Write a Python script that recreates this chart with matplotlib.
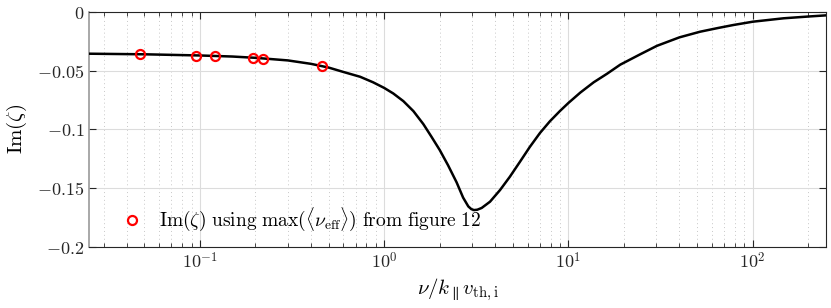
import numpy as np
import matplotlib
matplotlib.use("Agg")
import matplotlib.pyplot as plt
from matplotlib.ticker import FixedLocator, FixedFormatter, LogLocator, NullFormatter

plt.rcParams['mathtext.fontset'] = 'cm'
plt.rcParams['font.family'] = 'serif'
plt.rcParams['font.serif'] = ['DejaVu Serif']

# curve
nu = [0.025, 0.05, 0.1, 0.15, 0.2, 0.3, 0.4, 0.5, 0.6, 0.74, 0.87, 1.0, 1.12,
      1.27, 1.44, 1.63, 1.8, 2.0, 2.22, 2.47, 2.68, 2.86, 2.97, 3.07, 3.2,
      3.38, 3.75, 4.25, 4.81, 5.45, 6.17, 7.0, 7.93, 9.0, 10.0, 11.6, 13.7,
      16.2, 19.1, 24.5, 30.2, 40.0, 51.8, 65.0, 78.5, 100.0, 147.0, 200.0, 250.0]
im_zeta = [-0.0357, -0.0362, -0.0372, -0.0381, -0.0392, -0.0414, -0.0443,
           -0.0475, -0.0512, -0.0553, -0.0600, -0.0648, -0.0695, -0.0760,
           -0.0845, -0.0955, -0.1060, -0.1175, -0.1305, -0.1450, -0.1580,
           -0.1655, -0.1678, -0.1686, -0.1683, -0.1668, -0.1615, -0.1516,
           -0.1402, -0.1276, -0.1149, -0.1031, -0.0931, -0.0843, -0.0775,
           -0.0687, -0.0600, -0.0527, -0.0450, -0.0362, -0.0290, -0.0218,
           -0.0170, -0.0138, -0.0113, -0.0085, -0.0056, -0.0041, -0.0031]

# markers (using max <nu_eff> from figure 12)
nu_pts = [0.0474, 0.095, 0.12, 0.193, 0.22, 0.457]
im_pts = [-0.0360, -0.0374, -0.0377, -0.0391, -0.0400, -0.0462]

yticks = [-0.2, -0.15, -0.1, -0.05, 0]
ytick_labels = [r'$-0.2$', r'$-0.15$', r'$-0.1$', r'$-0.05$', r'$0$']
xticks = [0.1, 1, 10, 100]
xtick_labels = [r'$10^{-1}$', r'$10^{0}$', r'$10^{1}$', r'$10^{2}$']

fig = plt.figure(figsize=(8.31, 3.08), dpi=100)
ax = fig.add_axes([0.1071, 0.198, 0.887, 0.764])

ax.plot(nu, im_zeta, color='black', lw=1.8, zorder=3)
ax.plot(nu_pts, im_pts, 'o', ms=6.5, mfc='none', mec='red', mew=1.6, zorder=4,
        label=r'$\mathrm{Im}(\zeta)\ \mathrm{using\ max}(\langle\nu_{\mathrm{eff}}\rangle)\ \mathrm{from\ figure\ 12}$')

ax.set_xscale('log')
ax.set_xlim(0.025, 250)
ax.set_ylim(-0.2, 0)

ax.xaxis.set_major_locator(FixedLocator(xticks))
ax.xaxis.set_major_formatter(FixedFormatter(xtick_labels))
ax.xaxis.set_minor_locator(LogLocator(base=10, subs=np.arange(2, 10)))
ax.xaxis.set_minor_formatter(NullFormatter())
ax.yaxis.set_major_locator(FixedLocator(yticks))
ax.yaxis.set_major_formatter(FixedFormatter(ytick_labels))

ax.tick_params(which='both', direction='in', top=True, right=True,
               labelsize=13, colors='#262626', labelcolor='#262626')
ax.tick_params(which='major', length=5, width=0.8)
ax.tick_params(which='minor', length=3, width=0.6)

ax.grid(which='major', color='#dcdcdc', lw=0.8)
ax.grid(which='minor', axis='x', color='#c8c8c8', lw=0.7, ls=(0, (1, 3)))
ax.set_axisbelow(True)

for s in ax.spines.values():
    s.set_color('#262626')
    s.set_linewidth(0.8)
ax.spines['left'].set_color('#999999')
ax.spines['left'].set_linewidth(1.2)

ax.set_ylabel(r'$\mathrm{Im}(\zeta)$', fontsize=15, labelpad=6)
ax.set_xlabel(r'$\nu/k_{\parallel}v_{\mathrm{th,i}}$', fontsize=15, labelpad=3)

ax.legend(loc='lower left', frameon=False, fontsize=14, handletextpad=0.4,
          borderaxespad=0.3, bbox_to_anchor=(0.013, 0.0))

fig.savefig('out.png', dpi=100)
